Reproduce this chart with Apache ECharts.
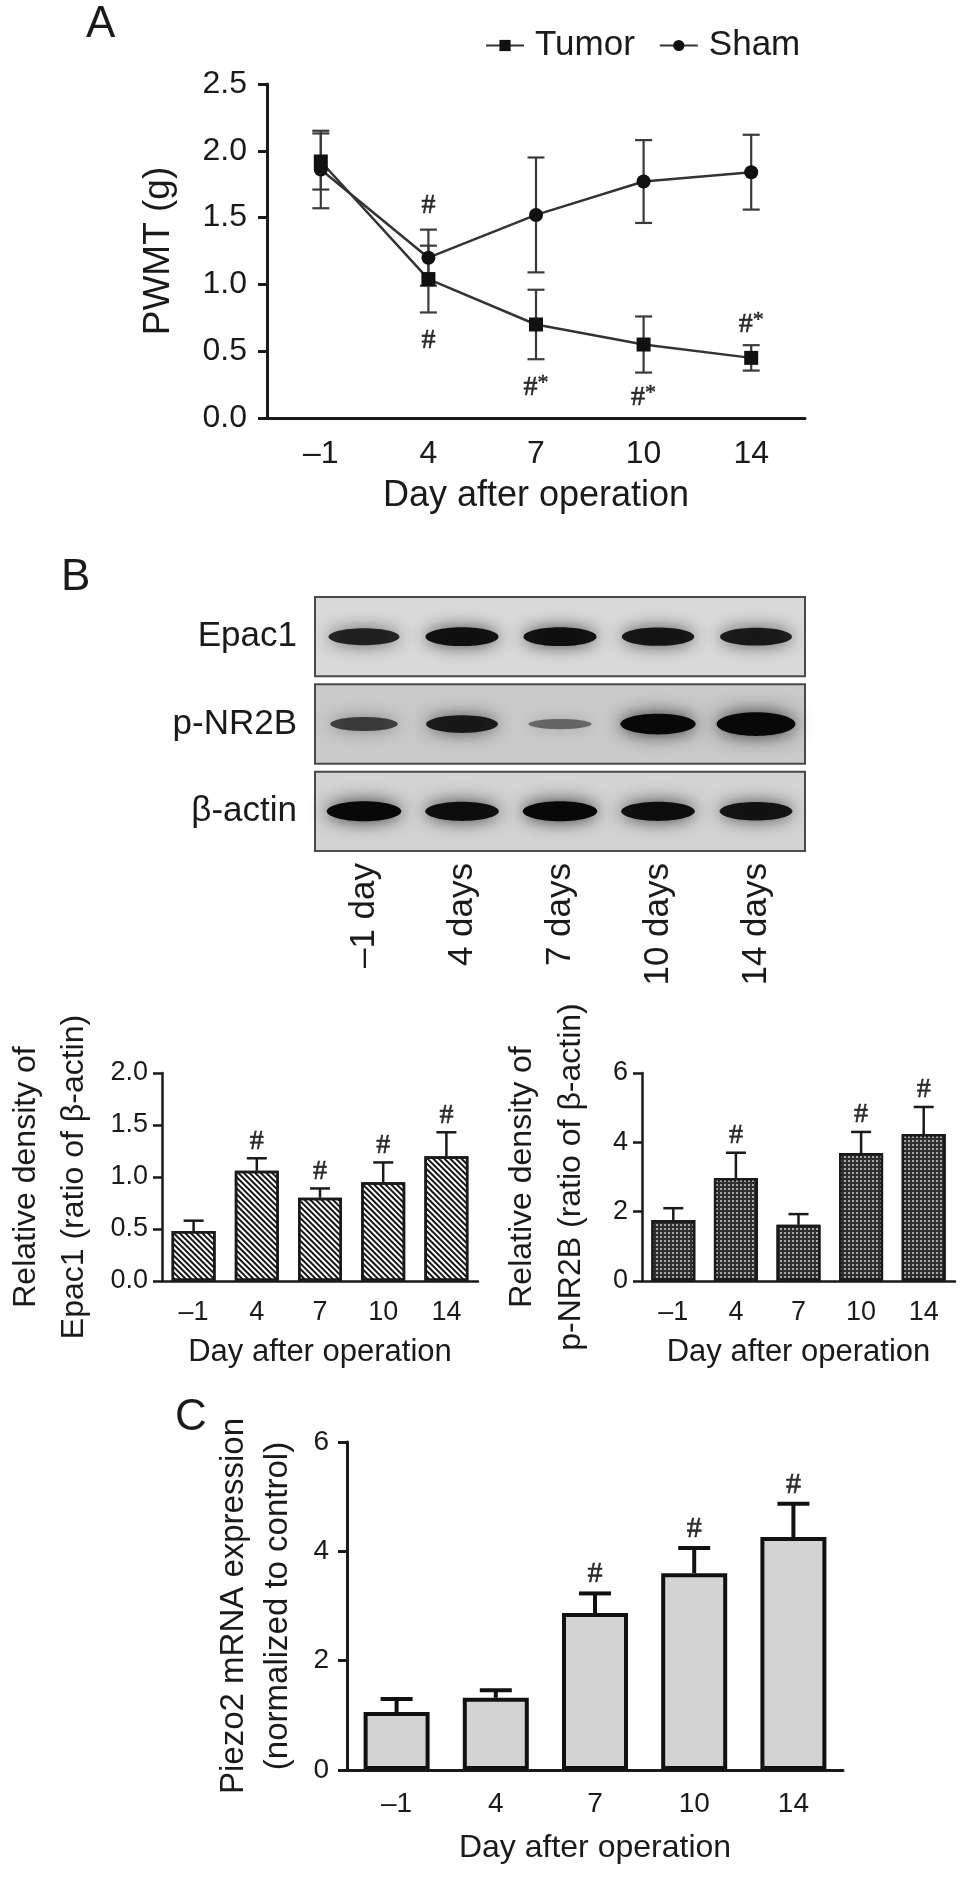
<!DOCTYPE html>
<html><head><meta charset="utf-8">
<script src="https://cdn.jsdelivr.net/npm/echarts@6/dist/echarts.min.js"></script>
<style>html,body{margin:0;padding:0;background:#fff}#c{width:969px;height:1879px}</style>
</head><body><div id="c"></div>
<script>
// ---------- data ----------
const days = ['–1', '4', '7', '10', '14'];
const tumorMean = [1.92, 1.04, 0.70, 0.55, 0.45];
const tumorSD = [0.21, 0.25, 0.26, 0.21, 0.095];
const shamMean = [1.86, 1.20, 1.52, 1.77, 1.84];
const shamSD = [0.29, 0.21, 0.43, 0.31, 0.28];
const pwmtMarkDay = [1, 1, 2, 3, 4];
const pwmtMarkY = [1.59, 0.58, 0.23, 0.15, 0.70];
const pwmtMarkText = ['#', '#', '#*', '#*', '#*'];

const lanes = ['–1 day', '4 days', '7 days', '10 days', '14 days'];
const proteins = ['Epac1', 'p-NR2B', 'β-actin'];
const epacBand = [0.8, 0.92, 0.92, 0.88, 0.85];
const nr2bBand = [0.6, 0.85, 0.35, 1.05, 1.25];
const actinBand = [1.0, 0.95, 1.0, 0.95, 0.9];

const epacMean = [0.48, 1.06, 0.80, 0.95, 1.20];
const epacErr = [0.10, 0.12, 0.09, 0.19, 0.23];
const epacSig = ['', '#', '#', '#', '#'];
const nr2bMean = [1.76, 2.97, 1.62, 3.69, 4.24];
const nr2bErr = [0.34, 0.73, 0.31, 0.61, 0.78];
const nr2bSig = ['', '#', '', '#', '#'];
const piezoMean = [1.06, 1.32, 2.87, 3.60, 4.26];
const piezoErr = [0.24, 0.14, 0.36, 0.46, 0.61];
const piezoSig = ['', '', '#', '#', '#'];

// ---------- helpers ----------
const FONT = "'Liberation Sans', Arial, Helvetica, sans-serif";
const SERIF = "'Liberation Serif', 'Times New Roman', serif";
const INK = '#1a1a1a';

function errRender(capHalf, lw, color, both) {
  return function (params, api) {
    const i = api.value(0), m = api.value(1), e = api.value(2);
    const top = api.coord([i, m + e]);
    const bot = api.coord([i, both ? m - e : m]);
    const st = { stroke: color, lineWidth: lw };
    const ch = [
      { type: 'line', shape: { x1: top[0], y1: top[1], x2: bot[0], y2: bot[1] }, style: st },
      { type: 'line', shape: { x1: top[0] - capHalf, y1: top[1], x2: top[0] + capHalf, y2: top[1] }, style: st }
    ];
    if (both) ch.push({ type: 'line', shape: { x1: bot[0] - capHalf, y1: bot[1], x2: bot[0] + capHalf, y2: bot[1] }, style: st });
    return { type: 'group', children: ch };
  };
}
function errData(mean, err) { return mean.map((m, i) => [i, m, err[i]]); }
function sigData(mean, err, sig) {
  const out = [];
  sig.forEach((s, i) => { if (s) out.push([i, mean[i] + err[i], s]); });
  return out;
}
function xCat(gi, fs, w, name, nameGap, margin) {
  return {
    type: 'category', gridIndex: gi, data: days, boundaryGap: true,
    axisLine: { lineStyle: { color: INK, width: w } },
    axisTick: { alignWithLabel: true, length: 10, lineStyle: { color: INK, width: w } },
    axisLabel: { interval: 0, fontSize: fs, color: INK, fontFamily: FONT, margin: margin },
    splitLine: { show: false },
    name: name, nameLocation: 'middle', nameGap: nameGap,
    nameTextStyle: { fontSize: fs + 4, color: INK, fontFamily: FONT }
  };
}
function yVal(gi, max, interval, fs, w, name, nameGap, lh, fmt, margin) {
  return {
    type: 'value', gridIndex: gi, min: 0, max: max, interval: interval,
    axisLine: { show: true, lineStyle: { color: INK, width: w } },
    axisTick: { show: true, length: 9, lineStyle: { color: INK, width: w } },
    axisLabel: { fontSize: fs, color: INK, fontFamily: FONT, margin: margin, formatter: fmt },
    splitLine: { show: false },
    name: name, nameLocation: 'middle', nameRotate: 90, nameGap: nameGap,
    nameTextStyle: { fontSize: fs + 5, color: INK, fontFamily: FONT, lineHeight: lh }
  };
}
const f1 = v => v.toFixed(1);
const f0 = v => String(v);

const bandRows = [epacBand, nr2bBand, actinBand];
const bandData = [];
bandRows.forEach((row, r) => row.forEach((d, l) => bandData.push([l, r, d])));
const rowFill = ['#d9d9d9', '#c9c9c9', '#d3d3d3'];

function blotBox(params, api) {
  const r = api.value(1);
  const c0 = api.coord([0, r]), c4 = api.coord([4, r]);
  const sz = api.size([1, 1]);
  const x0 = c0[0] - sz[0] / 2, x1 = c4[0] + sz[0] / 2;
  const h = sz[1] - 8;
  return { type: 'rect', shape: { x: x0, y: c0[1] - h / 2, width: x1 - x0, height: h },
    style: { fill: rowFill[r], stroke: '#4a4a4a', lineWidth: 2 } };
}
function blotBand(params, api) {
  const l = api.value(0), r = api.value(1), d = api.value(2);
  const c = api.coord([l, r]);
  const sz = api.size([1, 1]);
  const rx = sz[0] * (0.29 + 0.09 * d);
  const ry = 2.5 + 7.5 * d;
  const a = Math.min(1, 0.2 + 0.8 * d);
  return { type: 'ellipse', shape: { cx: c[0], cy: c[1], rx: rx, ry: ry },
    style: { fill: 'rgba(8,8,8,' + a + ')', shadowBlur: 12 + 6 * d, shadowColor: 'rgba(0,0,0,' + (0.75 * a) + ')' } };
}

const sigLabel = (fs, dist) => ({ show: true, position: 'top', distance: dist, fontSize: fs, fontFamily: SERIF,
  color: '#000', textBorderColor: '#000', textBorderWidth: 0.6, formatter: p => p.data[2] });

// ---------- option ----------
const option = {
  animation: false,
  backgroundColor: '#fff',
  textStyle: { fontFamily: FONT },
  title: [
    { text: 'A', left: 86, top: 3, padding: 0, textStyle: { fontSize: 44, fontWeight: 'normal', color: INK, fontFamily: FONT } },
    { text: 'B', left: 61, top: 556, padding: 0, textStyle: { fontSize: 44, fontWeight: 'normal', color: INK, fontFamily: FONT } },
    { text: 'C', left: 175, top: 1396, padding: 0, textStyle: { fontSize: 44, fontWeight: 'normal', color: INK, fontFamily: FONT } }
  ],
  legend: {
    left: 485, top: 28, itemWidth: 38, itemHeight: 14, itemGap: 24, padding: 0,
    data: ['Tumor', 'Sham'],
    textStyle: { fontSize: 35, color: INK, fontFamily: FONT, padding: [0, 0, 0, 6] }
  },
  grid: [
    { left: 267, top: 84, width: 538, height: 334, outerBoundsMode: 'none' },
    { left: 315, top: 593, width: 490, height: 262, outerBoundsMode: 'none' },
    { left: 162, top: 1073, width: 316, height: 208, outerBoundsMode: 'none' },
    { left: 642, top: 1073, width: 313, height: 208, outerBoundsMode: 'none' },
    { left: 347, top: 1442, width: 496, height: 328, outerBoundsMode: 'none' }
  ],
  xAxis: [
    xCat(0, 32, 3, 'Day after operation', 60, 20),
    { type: 'category', gridIndex: 1, data: lanes, boundaryGap: true,
      axisLine: { show: false }, axisTick: { show: false }, splitLine: { show: false },
      axisLabel: { interval: 0, rotate: 90, fontSize: 35, color: INK, fontFamily: FONT, margin: 8 } },
    xCat(2, 27, 2.5, 'Day after operation', 56, 18),
    xCat(3, 27, 2.5, 'Day after operation', 56, 18),
    xCat(4, 28, 3, 'Day after operation', 62, 20)
  ],
  yAxis: [
    yVal(0, 2.5, 0.5, 32, 3, 'PWMT (g)', 88, 40, f1, 20),
    { type: 'category', gridIndex: 1, data: proteins, inverse: true,
      axisLine: { show: false }, axisTick: { show: false }, splitLine: { show: false },
      axisLabel: { fontSize: 35, color: INK, fontFamily: FONT, margin: 18 } },
    yVal(2, 2.0, 0.5, 27, 2.5, 'Relative density of\nEpac1 (ratio of β-actin)', 64, 48, f1, 14),
    yVal(3, 6, 2, 27, 2.5, 'Relative density of\np-NR2B (ratio of β-actin)', 46, 49, f0, 14),
    yVal(4, 6, 2, 28, 3, 'Piezo2 mRNA expression\n(normalized to control)', 47, 44, f0, 18)
  ],
  series: [
    // Panel A
    { type: 'custom', name: 'tumorErr', xAxisIndex: 0, yAxisIndex: 0, z: 2,
      renderItem: errRender(8.5, 2.2, '#3a3a3a', true), encode: { x: 0, y: [1, 2] }, data: errData(tumorMean, tumorSD) },
    { type: 'custom', name: 'shamErr', xAxisIndex: 0, yAxisIndex: 0, z: 2,
      renderItem: errRender(8.5, 2.2, '#3a3a3a', true), encode: { x: 0, y: [1, 2] }, data: errData(shamMean, shamSD) },
    { type: 'line', name: 'Tumor', xAxisIndex: 0, yAxisIndex: 0, z: 3, data: tumorMean,
      symbol: 'rect', symbolSize: 14, lineStyle: { color: '#333', width: 2.5 }, itemStyle: { color: '#111' }, color: '#222' },
    { type: 'line', name: 'Sham', xAxisIndex: 0, yAxisIndex: 0, z: 3, data: shamMean,
      symbol: 'circle', symbolSize: 14, lineStyle: { color: '#333', width: 2.5 }, itemStyle: { color: '#111' }, color: '#222' },
    { type: 'scatter', xAxisIndex: 0, yAxisIndex: 0, symbolSize: 0, z: 4, silent: true,
      data: pwmtMarkDay.map((d, i) => [d, pwmtMarkY[i], pwmtMarkText[i]]),
      label: { show: true, position: 'inside', color: '#000',
        formatter: p => p.data[2] === '#*' ? '{h|#}{s|*}' : '{h|#}',
        rich: { h: { fontSize: 28, fontFamily: SERIF, color: '#000', textBorderColor: '#000', textBorderWidth: 0.6 },
                s: { fontSize: 22, fontFamily: SERIF, color: '#000', textBorderColor: '#000', textBorderWidth: 0.5, padding: [0, 0, 9, 0] } } } },
    // Blot
    { type: 'custom', xAxisIndex: 1, yAxisIndex: 1, z: 1, renderItem: blotBox, encode: { x: 0, y: 1 },
      data: proteins.map((p, r) => [2, r]) },
    { type: 'custom', xAxisIndex: 1, yAxisIndex: 1, z: 2, renderItem: blotBand, encode: { x: 0, y: 1 }, data: bandData },
    // Epac1 bars
    { type: 'bar', xAxisIndex: 2, yAxisIndex: 2, data: epacMean, barWidth: 44, z: 2,
      itemStyle: { color: '#ffffff', borderColor: INK, borderWidth: 2.5,
        decal: { symbol: 'rect', symbolSize: 1, color: '#151515', dashArrayX: [1, 0], dashArrayY: [2, 1.8], rotation: Math.PI / 4 } } },
    { type: 'custom', xAxisIndex: 2, yAxisIndex: 2, z: 3, renderItem: errRender(10, 2.5, INK, false), encode: { x: 0, y: [1, 2] }, data: errData(epacMean, epacErr) },
    { type: 'scatter', xAxisIndex: 2, yAxisIndex: 2, symbolSize: 0, silent: true, data: sigData(epacMean, epacErr, epacSig), label: sigLabel(28, 3) },
    // p-NR2B bars
    { type: 'bar', xAxisIndex: 3, yAxisIndex: 3, data: nr2bMean, barWidth: 44, z: 2,
      itemStyle: { color: '#2e2e2e', borderColor: INK, borderWidth: 2.5,
        decal: { symbol: 'rect', symbolSize: 1, color: '#a8a8a8', dashArrayX: [1.5, 1.5], dashArrayY: [1.5, 1.5], rotation: 0 } } },
    { type: 'custom', xAxisIndex: 3, yAxisIndex: 3, z: 3, renderItem: errRender(10, 2.5, INK, false), encode: { x: 0, y: [1, 2] }, data: errData(nr2bMean, nr2bErr) },
    { type: 'scatter', xAxisIndex: 3, yAxisIndex: 3, symbolSize: 0, silent: true, data: sigData(nr2bMean, nr2bErr, nr2bSig), label: sigLabel(28, 3) },
    // Piezo2 bars
    { type: 'bar', xAxisIndex: 4, yAxisIndex: 4, data: piezoMean, barWidth: 66, z: 2,
      itemStyle: { color: '#d3d3d3', borderColor: '#111', borderWidth: 4 } },
    { type: 'custom', xAxisIndex: 4, yAxisIndex: 4, z: 3, renderItem: errRender(16, 4, '#111', false), encode: { x: 0, y: [1, 2] }, data: errData(piezoMean, piezoErr) },
    { type: 'scatter', xAxisIndex: 4, yAxisIndex: 4, symbolSize: 0, silent: true, data: sigData(piezoMean, piezoErr, piezoSig), label: sigLabel(30, 4) }
  ]
};
const chart = echarts.init(document.getElementById('c'), null, { renderer: 'canvas' });
chart.setOption(option);
</script></body></html>
